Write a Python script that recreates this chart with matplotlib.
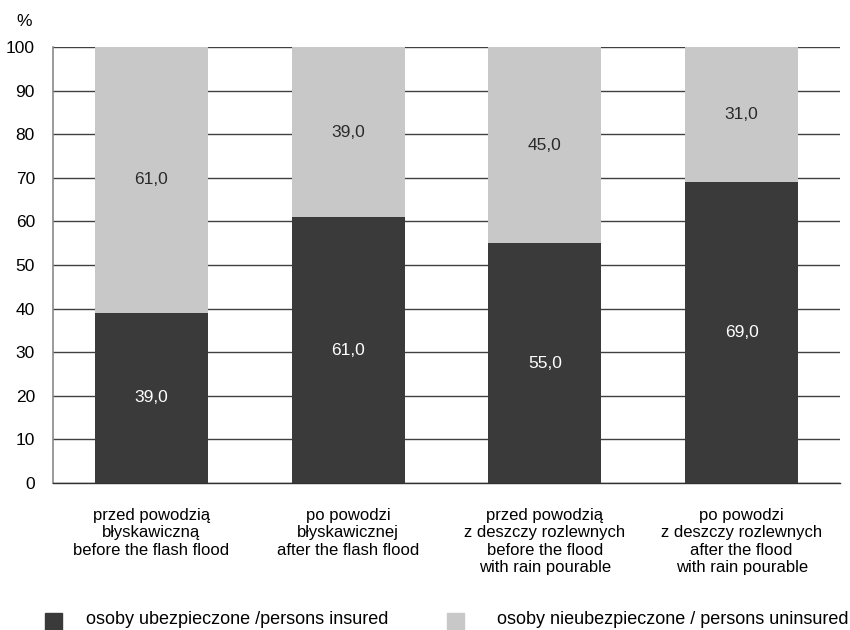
import matplotlib.pyplot as plt
from matplotlib.patches import Rectangle

plt.rcParams['font.family'] = ['Liberation Sans', 'DejaVu Sans']

categories = [
    'przed powodzią\nbłyskawiczną\nbefore the flash flood',
    'po powodzi\nbłyskawicznej\nafter the flash flood',
    'przed powodzią\nz deszczy rozlewnych\nbefore the flood\nwith rain pourable',
    'po powodzi\nz deszczy rozlewnych\nafter the flood\nwith rain pourable',
]
insured = [39.0, 61.0, 55.0, 69.0]
uninsured = [61.0, 39.0, 45.0, 31.0]
yticks = [0, 10, 20, 30, 40, 50, 60, 70, 80, 90, 100]
legend_labels = ['osoby ubezpieczone /persons insured',
                 'osoby nieubezpieczone / persons uninsured']

dark = '#3a3a3a'
light = '#c8c8c8'

fig = plt.figure(figsize=(8.5, 6.3), dpi=100)
ax = fig.add_axes([53 / 850, 1 - 483 / 630, 787 / 850, 436 / 630])

x = range(len(categories))
ax.bar(x, insured, width=0.575, color=dark, zorder=3)
ax.bar(x, uninsured, width=0.575, bottom=insured, color=light, zorder=3)

def fmt(v):
    return '{:.1f}'.format(v).replace('.', ',')

for i in x:
    ax.text(i, insured[i] / 2, fmt(insured[i]), ha='center', va='center',
            color='white', fontsize=12.5, zorder=4)
    ax.text(i, insured[i] + uninsured[i] / 2, fmt(uninsured[i]), ha='center',
            va='center', color='#2a2a2a', fontsize=12.5, zorder=4)

ax.set_xlim(-0.5, 3.5)
ax.set_ylim(0, 100)
ax.set_yticks(yticks)
ax.set_yticklabels([str(t) for t in yticks], fontsize=12.5)
ax.tick_params(axis='y', length=0, pad=13)
ax.set_xticks(list(x))
ax.set_xticklabels(categories, fontsize=12, linespacing=1.2, va='top')
ax.tick_params(axis='x', length=0, pad=18)
ax.yaxis.grid(True, color='#404040', linewidth=1.0, zorder=0)
for side in ['top', 'right']:
    ax.spines[side].set_visible(False)
ax.spines['left'].set_color('#8a8a8a')
ax.spines['left'].set_linewidth(1.2)
ax.spines['bottom'].set_color('#303030')
ax.spines['bottom'].set_linewidth(1.0)

fig.text(24 / 850, 1 - 22 / 630, '%', fontsize=12.5, ha='center', va='center')

# legend drawn by hand along the bottom edge
for (px, tx), col, lab in zip([(45, 86), (447, 497)], [dark, light], legend_labels):
    fig.patches.append(Rectangle((px / 850, 1 - 630 / 630), 17 / 850, 17 / 630,
                                 transform=fig.transFigure, color=col))
    fig.text(tx / 850, 1 - 620 / 630, lab, fontsize=13, va='center')

fig.savefig('out.png', dpi=100)
